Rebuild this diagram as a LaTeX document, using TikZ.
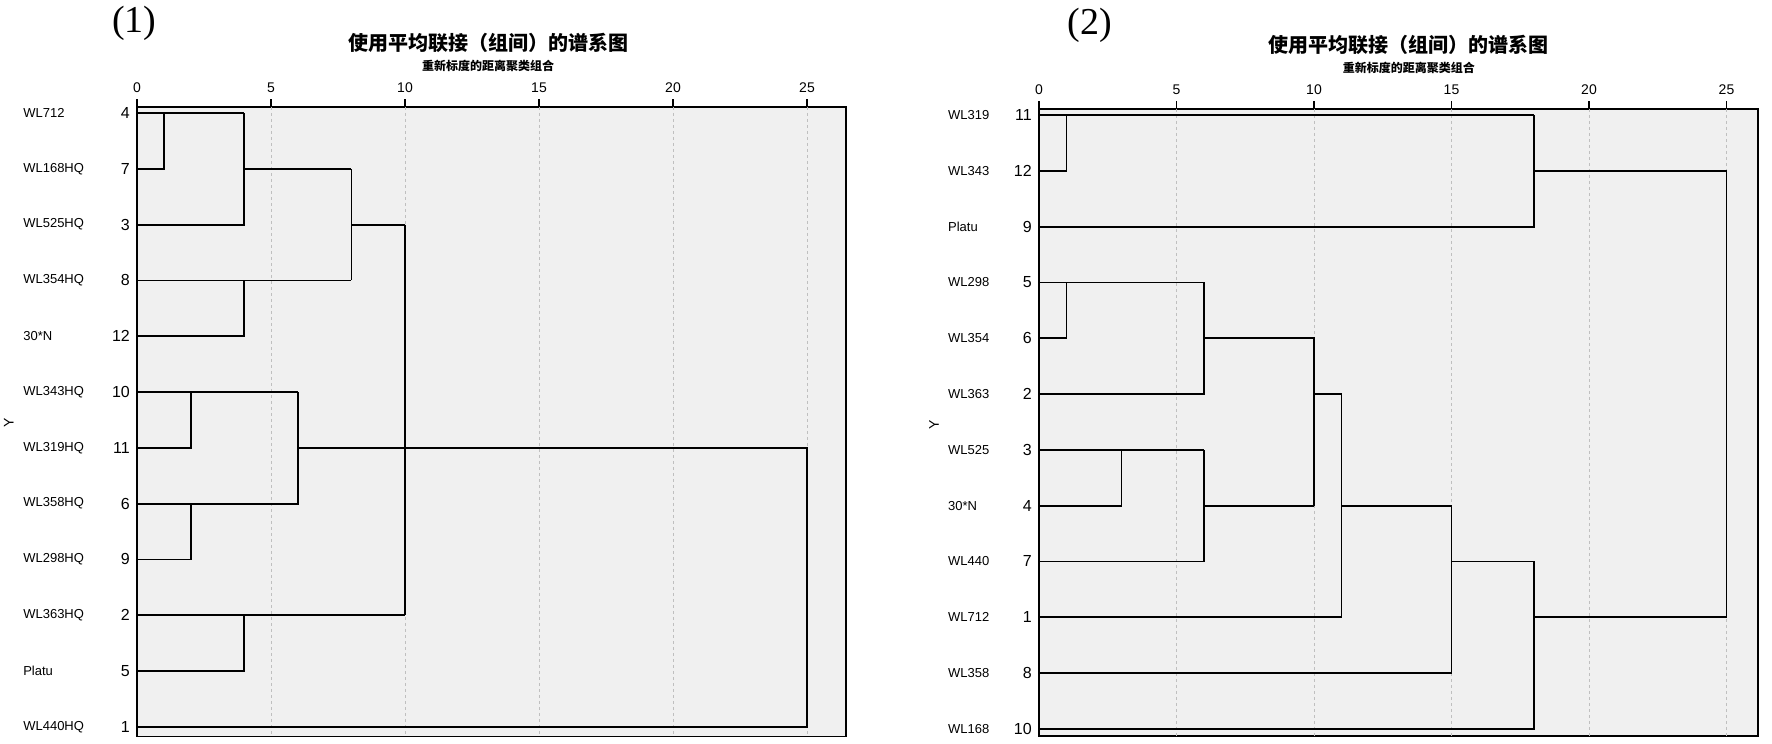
\documentclass[tikz,border=0pt]{standalone}
\usepackage{fontspec}
\setmainfont{Liberation Sans}
\newfontfamily\cjk{Noto Sans CJK SC}
\newfontfamily\tms{Liberation Serif}
\begin{document}
\begin{tikzpicture}[x=1pt,y=-1pt,
  tree/.style={line width=1.8pt},
  frame/.style={line width=1.3pt,fill=gray!12},
  grid/.style={gray!50,dashed,line width=0.8pt},
  lbl/.style={font=\fontsize{13}{13}\selectfont,anchor=west,inner sep=0},
  num/.style={font=\fontsize{16}{16}\selectfont,anchor=east,inner sep=0},
  tick/.style={font=\fontsize{14}{14}\selectfont,inner sep=0}]
\useasboundingbox (0,0) rectangle (1772,744);
% ---------- panel 1
\begin{scope}[xshift=137pt,yshift=-113pt,x=26.8pt,y=-55.8pt]
\draw[frame] (0,-0.108) rectangle (26.46,11.17);
\foreach \d in {5,10,15,20,25}{\draw[grid] (\d,-0.108) -- (\d,11.17);}
\foreach \d in {0,5,10,15,20,25}{\draw[line width=1.3pt] (\d,-0.108) -- (\d,-0.25); \node[tick] at (\d,-0.45) {\d};}
\node[font=\cjk\bfseries\fontsize{20}{20}\selectfont] at (13.1,-1.25) {使用平均联接（组间）的谱系图};
\node[font=\cjk\bfseries\fontsize{12}{12}\selectfont] at (13.1,-0.84) {重新标度的距离聚类组合};
\node[font=\tms\fontsize{38}{38}\selectfont] at (-0.1,-1.6) {(1)};
\node[font=\fontsize{14}{14}\selectfont,rotate=90] at (-4.78,5.55) {Y};
\foreach \n/\k [count=\i from 0] in {WL712/4,WL168HQ/7,WL525HQ/3,WL354HQ/8,30*N/12,WL343HQ/10,WL319HQ/11,WL358HQ/6,WL298HQ/9,WL363HQ/2,Platu/5,WL440HQ/1}{
  \node[lbl] at (-4.25,\i) {\n}; \node[num] at (-0.26,\i) {\k};}
\draw[tree] (0,0) -- (4,0) (1,0) -- (1,1) -- (0,1) (4,0) -- (4,2) -- (0,2)
  (4,1) -- (8,1) (0,3) -- (8,3) (4,3) -- (4,4) -- (0,4) (8,1) -- (8,3)
  (8,2) -- (10,2) (10,2) -- (10,9) (0,9) -- (10,9) (4,9) -- (4,10) -- (0,10)
  (0,5) -- (6,5) (2,5) -- (2,6) -- (0,6) (6,5) -- (6,7) -- (0,7) (2,7) -- (2,8) -- (0,8)
  (6,6) -- (25,6) -- (25,11) -- (0,11);
\end{scope}
% ---------- panel 2
\begin{scope}[xshift=1039pt,yshift=-115pt,x=27.5pt,y=-55.8pt]
\draw[frame] (0,-0.108) rectangle (26.15,11.13);
\foreach \d in {5,10,15,20,25}{\draw[grid] (\d,-0.108) -- (\d,11.13);}
\foreach \d in {0,5,10,15,20,25}{\draw[line width=1.3pt] (\d,-0.108) -- (\d,-0.25); \node[tick] at (\d,-0.45) {\d};}
\node[font=\cjk\bfseries\fontsize{20}{20}\selectfont] at (13.45,-1.25) {使用平均联接（组间）的谱系图};
\node[font=\cjk\bfseries\fontsize{12}{12}\selectfont] at (13.45,-0.84) {重新标度的距离聚类组合};
\node[font=\tms\fontsize{38}{38}\selectfont] at (1.85,-1.6) {(2)};
\node[font=\fontsize{14}{14}\selectfont,rotate=90] at (-3.82,5.55) {Y};
\foreach \n/\k [count=\i from 0] in {WL319/11,WL343/12,Platu/9,WL298/5,WL354/6,WL363/2,WL525/3,30*N/4,WL440/7,WL712/1,WL358/8,WL168/10}{
  \node[lbl] at (-3.31,\i) {\n}; \node[num] at (-0.26,\i) {\k};}
\draw[tree] (0,0) -- (18,0) (1,0) -- (1,1) -- (0,1) (18,0) -- (18,2) -- (0,2)
  (18,1) -- (25,1) -- (25,9)
  (0,3) -- (6,3) (1,3) -- (1,4) -- (0,4) (6,3) -- (6,5) -- (0,5)
  (6,4) -- (10,4) -- (10,7)
  (0,6) -- (6,6) (3,6) -- (3,7) -- (0,7) (6,6) -- (6,8) -- (0,8) (6,7) -- (10,7)
  (10,5) -- (11,5) -- (11,9) -- (0,9)
  (11,7) -- (15,7) -- (15,10) -- (0,10)
  (15,8) -- (18,8) -- (18,11) -- (0,11)
  (18,9) -- (25,9);
\end{scope}
\end{tikzpicture}
\end{document}
